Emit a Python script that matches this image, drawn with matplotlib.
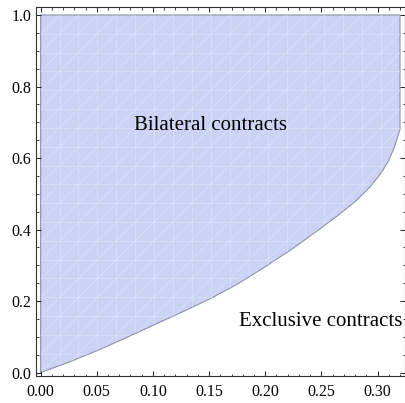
import numpy as np
import matplotlib
matplotlib.use('Agg')
import matplotlib.pyplot as plt
from matplotlib.patches import Polygon
from matplotlib.ticker import MultipleLocator

# boundary between the two regimes
boundary_x = [0.0, 0.025, 0.05, 0.075, 0.10, 0.125, 0.15, 0.175, 0.20, 0.225,
              0.25, 0.265, 0.28, 0.293, 0.300, 0.305, 0.310, 0.315, 0.32]
boundary_y = [0.0, 0.029, 0.061, 0.096, 0.132, 0.168, 0.205, 0.247, 0.296, 0.348,
              0.405, 0.440, 0.478, 0.518, 0.545, 0.567, 0.594, 0.630, 0.680]
x_max = 0.32
y_max = 1.0

labels = ['Bilateral contracts', 'Exclusive contracts']
label_pos = [(0.151, 0.677), (0.177, 0.129)]

fill_color = '#cbd2f3'
edge_color = '#8c90a8'

fig = plt.figure(figsize=(4.06, 4.03), dpi=100)
ax = fig.add_axes([35.5 / 406, (403 - 376) / 403, (405.5 - 35.5) / 406, (376 - 7.3) / 403])

# region above the boundary curve
poly_x = boundary_x + [x_max, 0.0]
poly_y = boundary_y + [y_max, y_max]
region = Polygon(np.column_stack([poly_x, poly_y]), closed=True,
                 facecolor=fill_color, edgecolor=edge_color, linewidth=0.8,
                 joinstyle='round', zorder=1)
ax.add_patch(region)

# faint mesh texture inside the region
d = x_max / 19
dy = y_max / 19
mesh_kw = dict(color='white', alpha=0.35, linewidth=0.5, zorder=2)
for i in range(1, 19):
    ln, = ax.plot([i * d, i * d], [0, y_max], **mesh_kw)
    ln.set_clip_path(region)
    ln, = ax.plot([0, x_max], [i * dy, i * dy], **mesh_kw)
    ln.set_clip_path(region)
for k in range(-19, 20):
    ln, = ax.plot([k * d, (k + 19) * d], [0, y_max], **mesh_kw)
    ln.set_clip_path(region)

for txt, (tx, ty) in zip(labels, label_pos):
    ha = 'center' if txt.startswith('Bilateral') else 'left'
    ax.text(tx, ty, txt, ha=ha, va='baseline', fontsize=15,
            family='Liberation Serif', zorder=3)

ax.set_xlim(-0.0046, 0.3249)
ax.set_ylim(-0.0095, 1.0215)

ax.xaxis.set_major_locator(MultipleLocator(0.05))
ax.xaxis.set_minor_locator(MultipleLocator(0.01))
ax.yaxis.set_major_locator(MultipleLocator(0.2))
ax.yaxis.set_minor_locator(MultipleLocator(0.05))
ax.xaxis.set_major_formatter(plt.FuncFormatter(lambda v, p: f'{v:.2f}'))
ax.yaxis.set_major_formatter(plt.FuncFormatter(lambda v, p: f'{v:.1f}'))

ax.tick_params(which='both', direction='in', top=True, right=True, color='#222222')
ax.tick_params(which='major', length=3.4, width=0.7)
ax.tick_params(which='minor', length=1.8, width=0.6)
ax.tick_params(axis='x', pad=6)
ax.tick_params(axis='y', pad=3)
for lab in ax.get_xticklabels() + ax.get_yticklabels():
    lab.set_family('Liberation Serif')
    lab.set_fontsize(11.5)
for sp in ax.spines.values():
    sp.set_linewidth(0.8)
    sp.set_color('#333333')

fig.savefig('out.png', dpi=100)
